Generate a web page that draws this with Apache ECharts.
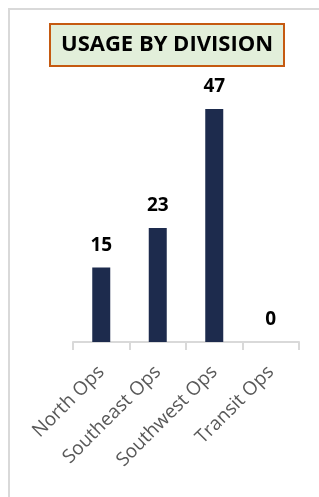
<!DOCTYPE html>
<html lang="en">
<head>
    <meta charset="UTF-8">
    <title>Usage by Division</title>
    <script src="https://cdn.jsdelivr.net/npm/echarts@6/dist/echarts.min.js"></script>
    <style>
        html, body { margin: 0; padding: 0; background: #fff; }
        #frame { position: absolute; left: 8px; top: 8px; width: 320px; height: 500px;
                 border-left: 2px solid #d9d9d9; border-top: 2px solid #d9d9d9; box-sizing: border-box; }
    </style>
</head>
<body>
<div id="frame"></div>
<div id="main" style="position:absolute;left:0;top:0;width: 319px;height:497px;"></div>
<script>
    var divisions = ['North Ops', 'Southeast Ops', 'Southwest Ops', 'Transit Ops'];
    var usage = [15, 23, 47, 0];

    var myChart = echarts.init(document.getElementById('main'));
    var option = {
        title: {
            text: 'USAGE BY DIVISION',
            left: 50,
            top: 24,
            padding: [8, 11, 8, 11],
            backgroundColor: '#e2efda',
            borderColor: '#c55a11',
            borderWidth: 2,
            textStyle: {
                fontFamily: 'Open Sans',
                fontSize: 22,
                lineHeight: 26,
                fontWeight: 'bold',
                color: '#000'
            }
        },
        grid: {
            left: 73,
            right: 20,
            top: 94,
            bottom: 155
        },
        xAxis: {
            type: 'category',
            data: divisions,
            axisLine: { lineStyle: { color: '#d9d9d9', width: 2 } },
            axisTick: { show: true, length: 8, lineStyle: { color: '#d9d9d9', width: 2 } },
            axisLabel: {
                rotate: 45,
                interval: 0,
                color: '#595959',
                fontFamily: 'Open Sans',
                fontSize: 19,
                margin: 27
            }
        },
        yAxis: {
            type: 'value',
            min: 0,
            max: 50,
            show: false
        },
        series: [
            {
                type: 'bar',
                data: usage,
                barWidth: 18,
                itemStyle: { color: '#1d2b4d' },
                label: {
                    show: true,
                    position: 'top',
                    distance: 13,
                    color: '#000',
                    fontFamily: 'Open Sans',
                    fontWeight: 'bold',
                    fontSize: 19
                }
            }
        ]
    };
    myChart.setOption(option);
</script>
</body>
</html>
